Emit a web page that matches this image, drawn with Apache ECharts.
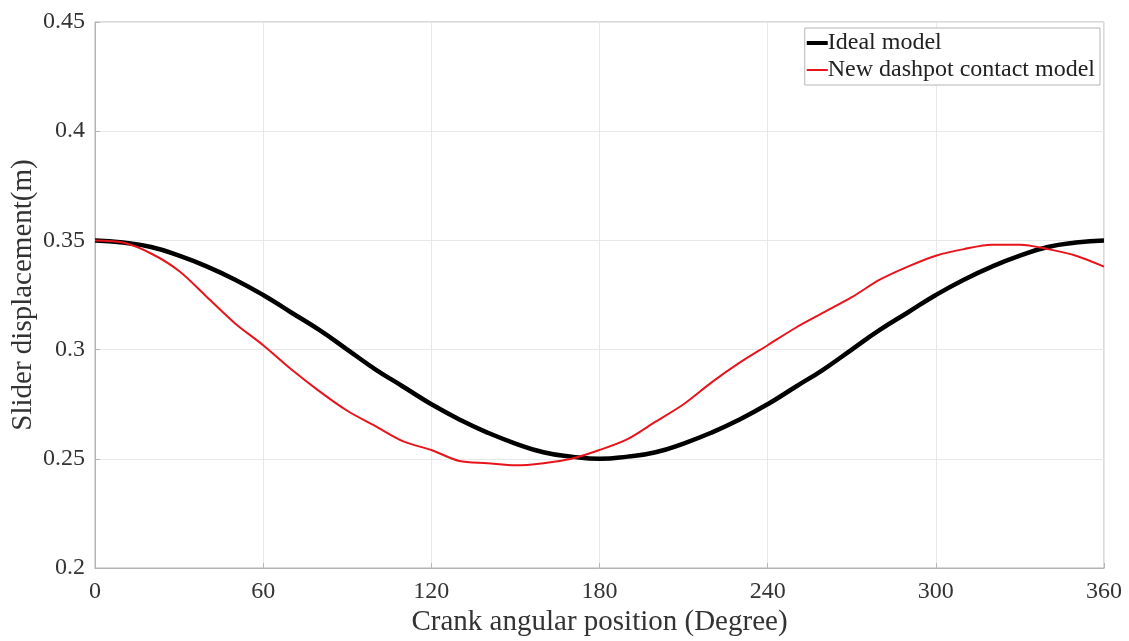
<!DOCTYPE html>
<html lang="en">
<head>
    <meta charset="UTF-8">
    <title>Slider displacement</title>
    <style>
        html, body { margin: 0; padding: 0; background: #fff; }
        #main { width: 1129px; height: 641px; }
    </style>
</head>
<body>
<div id="main"></div>
<script src="https://cdn.jsdelivr.net/npm/echarts@6/dist/echarts.min.js"></script>
<script>
    // crank angle, degrees
    const angles = [0, 10, 20, 30, 40, 50, 60, 70, 80, 90, 100, 110, 120, 130, 140, 150, 160, 170, 180,
        190, 200, 210, 220, 230, 240, 250, 260, 270, 280, 290, 300, 310, 320, 330, 340, 350, 360];
    // slider displacement (m)
    const idealModel = [0.350, 0.349, 0.347, 0.343, 0.338, 0.332, 0.325, 0.317, 0.309, 0.300, 0.291, 0.283,
        0.275, 0.268, 0.262, 0.257, 0.253, 0.251, 0.250, 0.251, 0.253, 0.257, 0.262, 0.268, 0.275, 0.283,
        0.291, 0.300, 0.309, 0.317, 0.325, 0.332, 0.338, 0.343, 0.347, 0.349, 0.350];
    const dashpotModel = [0.350, 0.349, 0.344, 0.336, 0.324, 0.312, 0.302, 0.291, 0.281, 0.272, 0.265, 0.258,
        0.254, 0.249, 0.248, 0.247, 0.248, 0.250, 0.254, 0.259, 0.267, 0.275, 0.285, 0.294, 0.302, 0.310,
        0.317, 0.324, 0.332, 0.338, 0.343, 0.346, 0.348, 0.348, 0.346, 0.343, 0.338];

    const font = 'Liberation Serif, Times New Roman, serif';
    const pair = (ys) => angles.map((a, i) => [a, ys[i]]);

    const myChart = echarts.init(document.getElementById('main'));
    myChart.setOption({
        animation: false,
        grid: {
            left: 95, right: 25, top: 22, bottom: 73,
            outerBoundsMode: 'none',
            containLabel: false,
            show: true, borderColor: '#b5b5b5', borderWidth: 1
        },
        legend: {
            orient: 'vertical',
            right: 29, top: 28,
            align: 'left',
            backgroundColor: '#fff',
            borderColor: '#b5b5b5', borderWidth: 1,
            padding: [3, 5, 3, 2],
            itemGap: 3,
            itemWidth: 21, itemHeight: 14,
            textStyle: { fontFamily: font, fontSize: 24, color: '#222', padding: [0, 0, 0, -5] },
            data: [
                { name: 'Ideal model', icon: 'path://M0,0H21V4H0Z' },
                { name: 'New dashpot contact model', icon: 'path://M0,0H21V2H0Z' }
            ]
        },
        xAxis: {
            type: 'value',
            min: 0, max: 360, interval: 60,
            name: 'Crank angular position (Degree)',
            nameLocation: 'middle', nameGap: 40,
            nameMoveOverlap: false,
            nameTextStyle: { fontFamily: font, fontSize: 29, color: '#333' },
            axisLine: { lineStyle: { color: '#b5b5b5' } },
            axisTick: { inside: true, length: 5, lineStyle: { color: '#b5b5b5' } },
            axisLabel: { fontFamily: font, fontSize: 24, color: '#333', margin: 12 },
            splitLine: { lineStyle: { color: '#e8e8e8' } }
        },
        yAxis: {
            type: 'value',
            min: 0.2, max: 0.45, interval: 0.05,
            name: 'Slider displacement(m)',
            nameLocation: 'middle', nameGap: 57,
            nameMoveOverlap: false,
            nameTextStyle: { fontFamily: font, fontSize: 29, color: '#333' },
            axisLine: { show: true, lineStyle: { color: '#b5b5b5' } },
            axisTick: { show: true, inside: true, length: 5, lineStyle: { color: '#b5b5b5' } },
            axisLabel: { fontFamily: font, fontSize: 24, color: '#333', margin: 10 },
            splitLine: { lineStyle: { color: '#e8e8e8' } }
        },
        series: [
            {
                name: 'Ideal model',
                type: 'line',
                data: pair(idealModel),
                smooth: true,
                symbol: 'none',
                lineStyle: { color: '#000', width: 4.5 },
                itemStyle: { color: '#000' }
            },
            {
                name: 'New dashpot contact model',
                type: 'line',
                data: pair(dashpotModel),
                smooth: 0.3,
                symbol: 'none',
                lineStyle: { color: '#e8141c', width: 2 },
                itemStyle: { color: '#e8141c' }
            }
        ]
    });
</script>
</body>
</html>
